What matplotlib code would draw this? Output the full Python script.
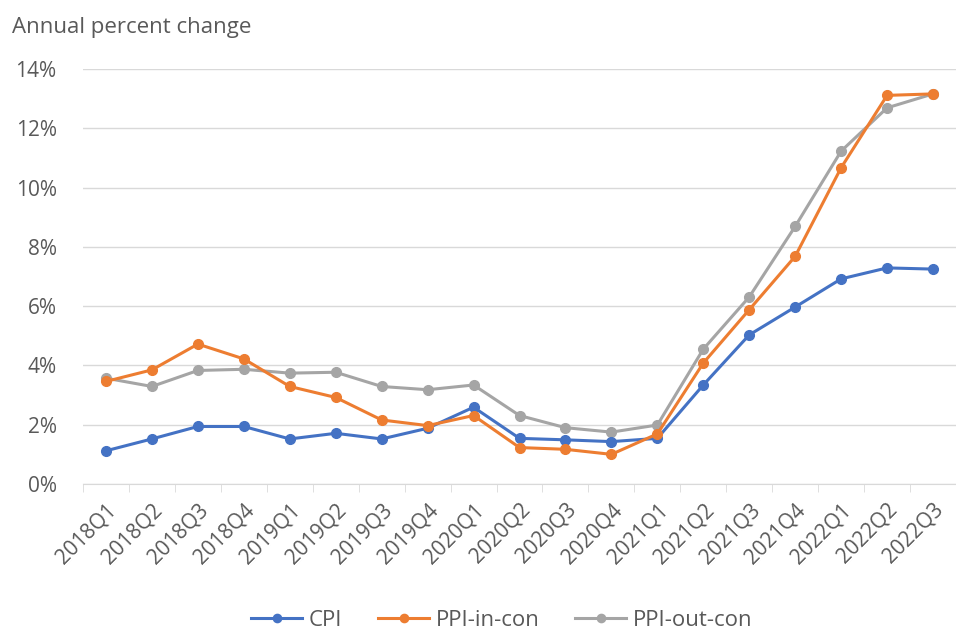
import matplotlib.pyplot as plt
import numpy as np

# quarterly labels and annual percent change series
quarters = ['2018Q1', '2018Q2', '2018Q3', '2018Q4', '2019Q1', '2019Q2', '2019Q3', '2019Q4',
            '2020Q1', '2020Q2', '2020Q3', '2020Q4', '2021Q1', '2021Q2', '2021Q3', '2021Q4',
            '2022Q1', '2022Q2', '2022Q3']
cpi = [1.12, 1.52, 1.94, 1.94, 1.52, 1.71, 1.52, 1.88, 2.59, 1.54, 1.49, 1.43, 1.54,
       3.34, 5.03, 5.97, 6.92, 7.29, 7.25]
ppi_in = [3.46, 3.85, 4.72, 4.22, 3.29, 2.92, 2.16, 1.97, 2.31, 1.23, 1.17, 1.00, 1.69,
          4.08, 5.88, 7.68, 10.67, 13.11, 13.16]
ppi_out = [3.57, 3.29, 3.83, 3.87, 3.74, 3.77, 3.29, 3.18, 3.34, 2.31, 1.90, 1.75, 1.99,
           4.55, 6.31, 8.69, 11.23, 12.69, 13.16]

plt.rcParams['font.family'] = ['Open Sans', 'DejaVu Sans']
txt = '#595959'
grid = '#d9d9d9'

fig = plt.figure(figsize=(9.56, 6.31), dpi=100)
ax = fig.add_axes([83 / 956, 1 - 484 / 631, (956 - 83) / 956, (484 - 69) / 631])

x = np.arange(len(quarters))
ax.plot(x, cpi, color='#4472C4', lw=2.2, marker='o', ms=7, label='CPI', zorder=3)
ax.plot(x, ppi_in, color='#ED7D31', lw=2.2, marker='o', ms=7, label='PPI-in-con', zorder=4)
ax.plot(x, ppi_out, color='#A5A5A5', lw=2.2, marker='o', ms=7, label='PPI-out-con', zorder=2)

ax.set_ylim(0, 14)
ax.set_xlim(-0.5, 18.35)
ax.set_yticks(range(0, 15, 2))
ax.set_yticklabels([f'{v}%' for v in range(0, 15, 2)], color=txt, fontsize=15)
ax.yaxis.grid(True, color=grid, lw=1)
ax.set_axisbelow(True)
ax.tick_params(axis='y', length=0, pad=19)

ax.set_xticks(x)
ax.set_xticklabels(quarters, rotation=45, ha='right', rotation_mode='anchor',
                   color=txt, fontsize=15)
ax.set_xticks(np.arange(-0.5, 18.6, 1), minor=True)
ax.tick_params(axis='x', which='major', length=0, pad=11)
ax.tick_params(axis='x', which='minor', length=6, color=grid)

for s in ['top', 'right', 'left']:
    ax.spines[s].set_visible(False)
ax.spines['bottom'].set_color(grid)

fig.text(12 / 956, 1 - 27 / 631, 'Annual percent change', color=txt, fontsize=16, va='center')

fig.legend(loc='center', bbox_to_anchor=(502 / 956, 1 - 620 / 631), ncol=3, frameon=False,
           fontsize=16, labelcolor=txt, handlelength=2.3, handletextpad=0.3,
           columnspacing=1.6, markerscale=0.85)

plt.savefig('out.png', dpi=100)
